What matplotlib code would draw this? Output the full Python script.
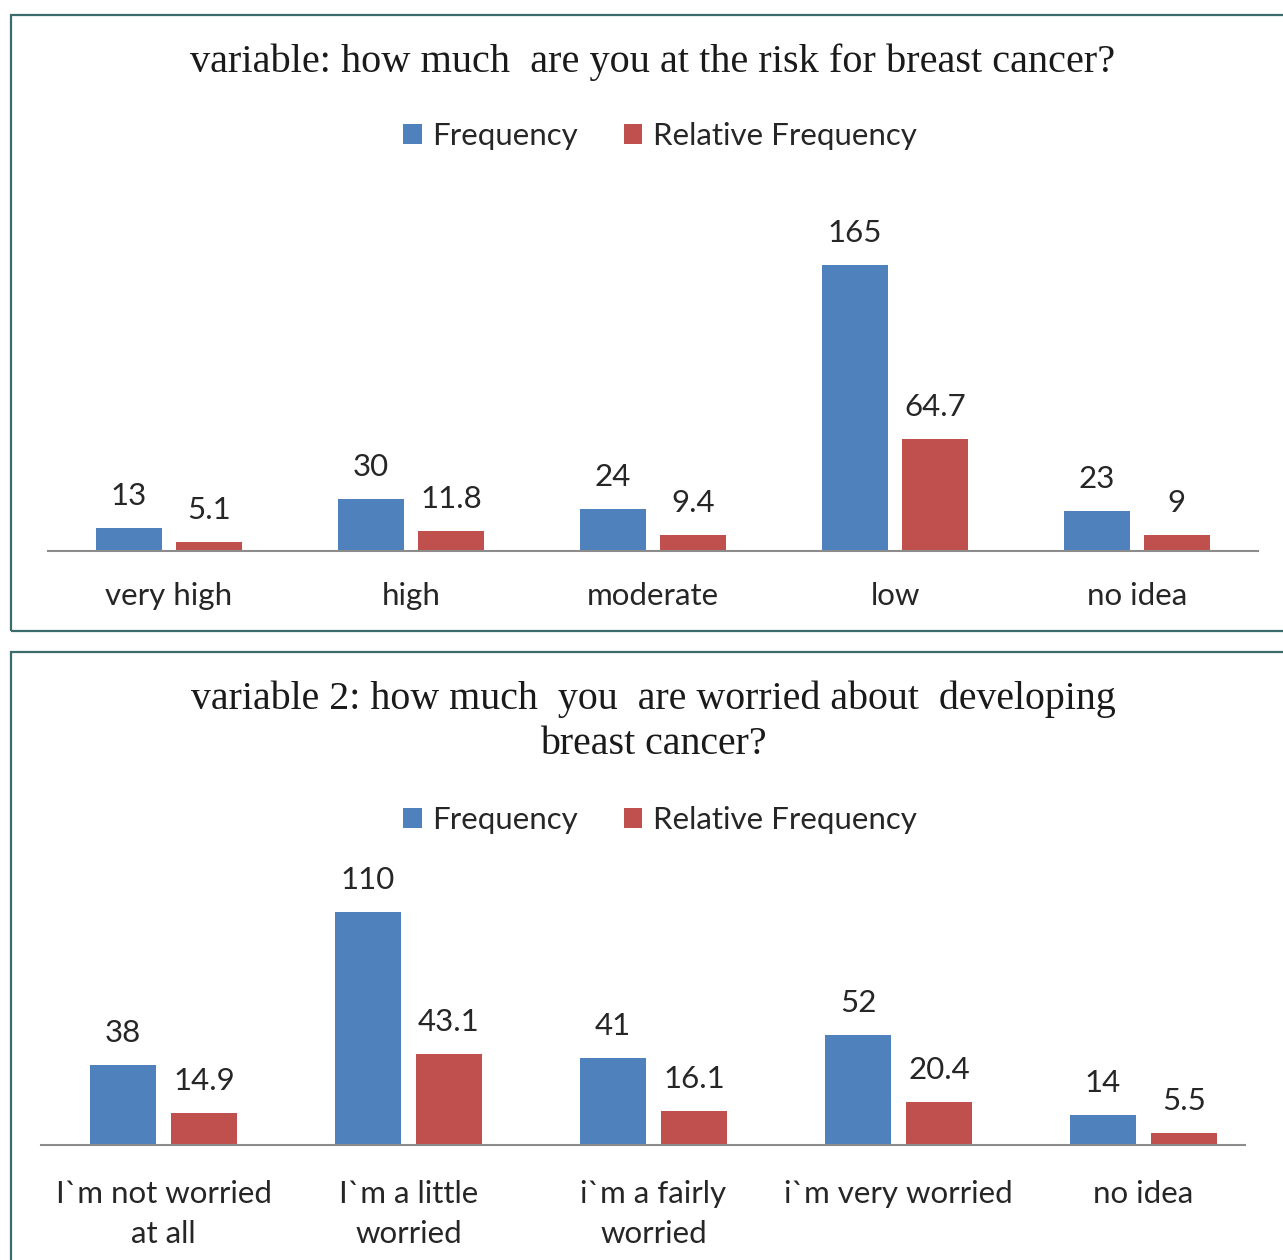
import numpy as np
import matplotlib.pyplot as plt
from matplotlib.patches import Rectangle

# survey answers, question 1
risk_labels = ["very high", "high", "moderate", "low", "no idea"]
risk_freq = [13, 30, 24, 165, 23]
risk_rel = [5.1, 11.8, 9.4, 64.7, 9]

# survey answers, question 2
worry_labels = ["I`m not worried\nat all", "I`m a little\nworried", "i`m a fairly\nworried",
                "i`m very worried", "no idea"]
worry_freq = [38, 110, 41, 52, 14]
worry_rel = [14.9, 43.1, 16.1, 20.4, 5.5]

blue = "#4F81BD"
red = "#C0504D"
txt = "#262626"
sans = ["Lato", "DejaVu Sans"]
serif = ["Liberation Serif", "DejaVu Serif"]
fs = 22.5

W, H = 1283, 1260
fig = plt.figure(figsize=(W / 100, H / 100), dpi=100)

# panel frames
for (x0, y0, x1, y1) in [(11, 15, 1290, 631), (11, 652, 1290, 1270)]:
    fig.patches.append(Rectangle((x0 / W, 1 - y1 / H), (x1 - x0) / W, (y1 - y0) / H,
                                 transform=fig.transFigure, fill=False,
                                 edgecolor="#3C6B6B", linewidth=1.6))


def bar_panel(left, step, line_end, base, ymax, px_per_unit, labels, freq, rel, tick_pad):
    n = len(labels)
    height = ymax * px_per_unit
    ax = fig.add_axes([left / W, 1 - base / H, n * step / W, height / H])
    x = np.arange(n)
    w = 0.27
    b1 = ax.bar(x - 0.165, freq, w, color=blue, label="Frequency")
    b2 = ax.bar(x + 0.165, rel, w, color=red, label="Relative Frequency")
    for bars, vals in [(b1, freq), (b2, rel)]:
        for r, v in zip(bars, vals):
            ax.annotate(f"{v:g}", (r.get_x() + r.get_width() / 2, r.get_height()),
                        xytext=(0, 32), textcoords="offset pixels",
                        ha="center", va="center", fontsize=fs, color=txt, family=sans)
    ax.set_xlim(-0.5, n - 0.5)
    ax.set_ylim(0, ymax)
    ax.set_yticks([])
    ax.set_xticks(x)
    ax.set_xticklabels(labels, fontsize=fs, color=txt, family=sans, linespacing=1.55)
    ax.tick_params(axis="x", length=0, pad=tick_pad)
    for s in ["top", "left", "right"]:
        ax.spines[s].set_visible(False)
    ax.spines["bottom"].set_color("#8C8C8C")
    ax.spines["bottom"].set_linewidth(1.5)
    ax.spines["bottom"].set_bounds(-0.5, (line_end - left) / step - 0.5)
    ax.patch.set_alpha(0)
    return ax


ax1 = bar_panel(48, 242, 1258, 551, 200, 1.733, risk_labels, risk_freq, risk_rel, 22.5)
ax2 = bar_panel(41, 245, 1245, 1145, 140, 2.118, worry_labels, worry_freq, worry_rel, 25)

fig.text(653 / W, 1 - 62 / H, "variable: how much  are you at the risk for breast cancer?",
         ha="center", va="center", fontsize=29, family=serif, color="#1A1A1A")
fig.text(653 / W, 1 - 722 / H,
         "variable 2: how much  you  are worried about  developing\nbreast cancer?",
         ha="center", va="center", fontsize=28.7, family=serif, color="#1A1A1A",
         linespacing=1.3)

for ax, yc in [(ax1, 136), (ax2, 820)]:
    ax.legend(loc="center", bbox_to_anchor=(660 / W, 1 - yc / H),
              bbox_transform=fig.transFigure, ncol=2, frameon=False,
              prop={"family": sans, "size": fs}, labelcolor=txt,
              handlelength=0.6, handleheight=0.6, handletextpad=0.33,
              columnspacing=1.45)

fig.savefig("out.png", dpi=100, facecolor="white")
